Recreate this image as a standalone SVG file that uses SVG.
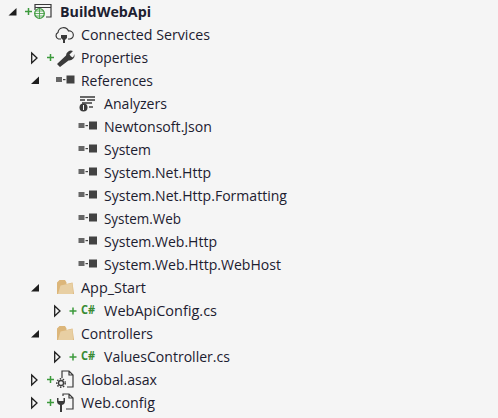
<svg xmlns="http://www.w3.org/2000/svg" width="498" height="418" viewBox="0 0 498 418">
<style>
text{font-family:"Open Sans","Noto Sans","Liberation Sans",sans-serif;font-size:15px;fill:#1c2030}
.b{font-weight:700}
.open{fill:#1e1e1e}
.closed{fill:#f5f5f5;stroke:#1e1e1e;stroke-width:1.3}
.plus{stroke:#3c9a3c;stroke-width:1.5;fill:none}
.sq{fill:#424242}
.line{fill:none;stroke:#3a3a3a;stroke-width:1.2}
.folder{fill:#dcb67a}
.cs{font-size:12px;font-weight:700;fill:#388a34}
</style>
<defs>
<g id="ref"><rect x="0" y="-2.500" width="6" height="5" class="sq" opacity=".8"/><rect x="7" y="-0.500" width="2.500" height="1.200" class="sq"/><rect x="10.500" y="-4" width="8" height="8" class="sq"/></g>
<path id="tri-open" class="open" d="M0 7.500L8 7.500L8 0Z"/>
<path id="tri-closed" class="closed" d="M0.700 0L6 5L0.700 10Z"/>
<path id="plus" class="plus" d="M0 3.500H7M3.500 0V7"/>
<g id="fold"><path class="folder" d="M0.500 14.500V3L3 0.500H8.500L10 3V4.500L16 3L17.500 14.500Z"/><path d="M1.500 14.500L4 6L16 3.500L16.500 14.500Z" fill="#e8cfa3"/></g>
</defs>
<rect width="498" height="418" fill="#f5f5f5"/>
<g id="connectors"></g>
<g id="node-buildwebapi"><use href="#tri-open" x="8.500" y="8"/><use href="#plus" x="25" y="8"/><path class="line" d="M35 10V4.500H51V17H46M35 7.500H51"/><circle cx="39.500" cy="13.500" r="4.800" fill="#f5f5f5" stroke="#3c9a3c" stroke-width="1.300"/><path d="M34.700 13.500H44.300M39.500 8.700V18.300M35.500 11H43.500M35.500 16H43.500" stroke="#3c9a3c" stroke-width=".8" fill="none"/><text class="b" x="60" y="17" textLength="91" lengthAdjust="spacingAndGlyphs">BuildWebApi</text></g>
<g id="node-connected"><path class="line" d="M61 39H58.500A3.500 3.500 0 0 1 58 32.500A5.500 5.500 0 0 1 68.500 31A4 4 0 0 1 70 39H68"/><path d="M62 33V35M66 33V35M61 35H67V38L65 40V43H63V40L61 38Z" fill="#3a3a3a"/><text x="81" y="40" textLength="129" lengthAdjust="spacingAndGlyphs">Connected Services</text></g>
<g id="node-properties"><use href="#tri-closed" x="31" y="53"/><use href="#plus" x="47" y="54"/><path d="M57 64L66 55.500A5 5 0 0 1 73 51L69.500 54.500L71 56.500L73 57.500L74.500 54A5.500 5.500 0 0 1 68.500 60.500L60 67Z" fill="#3a3a3a"/><text x="81" y="63" textLength="67" lengthAdjust="spacingAndGlyphs">Properties</text></g>
<g id="node-references"><use href="#tri-open" x="31" y="76.500"/><use href="#ref" x="56" y="79.500"/><text x="81" y="86" textLength="72" lengthAdjust="spacingAndGlyphs">References</text></g>
<g id="node-analyzers"><path d="M80 97H95M80 100H85M87 100H95M82 103H92" stroke="#3a3a3a" stroke-width="1.600" fill="none"/><circle cx="83.500" cy="107.500" r="4" fill="#3a3a3a"/><rect x="83" y="105" width="1" height="5" fill="#f5f5f5"/><path d="M89 107H93" stroke="#3a3a3a" stroke-width="1.400"/><text x="104" y="109" textLength="63" lengthAdjust="spacingAndGlyphs">Analyzers</text></g>
<g id="node-newtonsoft"><use href="#ref" x="78.500" y="125.500"/><text x="104" y="132" textLength="108" lengthAdjust="spacingAndGlyphs">Newtonsoft.Json</text></g>
<g id="node-system"><use href="#ref" x="78.500" y="148.500"/><text x="104" y="155" textLength="47" lengthAdjust="spacingAndGlyphs">System</text></g>
<g id="node-net-http"><use href="#ref" x="78.500" y="171.500"/><text x="104" y="178" textLength="107" lengthAdjust="spacingAndGlyphs">System.Net.Http</text></g>
<g id="node-formatting"><use href="#ref" x="78.500" y="194.500"/><text x="104" y="201" textLength="183" lengthAdjust="spacingAndGlyphs">System.Net.Http.Formatting</text></g>
<g id="node-web"><use href="#ref" x="78.500" y="217.500"/><text x="104" y="224" textLength="77" lengthAdjust="spacingAndGlyphs">System.Web</text></g>
<g id="node-web-http"><use href="#ref" x="78.500" y="240.500"/><text x="104" y="247" textLength="113" lengthAdjust="spacingAndGlyphs">System.Web.Http</text></g>
<g id="node-webhost"><use href="#ref" x="78.500" y="263.500"/><text x="104" y="270" textLength="177" lengthAdjust="spacingAndGlyphs">System.Web.Http.WebHost</text></g>
<g id="node-app-start"><use href="#tri-open" x="31" y="284"/><use href="#fold" x="56.500" y="279.500"/><text x="81" y="293" textLength="65" lengthAdjust="spacingAndGlyphs">App_Start</text></g>
<g id="node-webapiconfig"><use href="#tri-closed" x="54" y="306"/><use href="#plus" x="69.500" y="307.500"/><text class="cs" x="81" y="314" textLength="14" lengthAdjust="spacingAndGlyphs">C#</text><text x="104" y="316" textLength="113" lengthAdjust="spacingAndGlyphs">WebApiConfig.cs</text></g>
<g id="node-controllers"><use href="#tri-open" x="31" y="330"/><use href="#fold" x="56.500" y="325.500"/><text x="81" y="339" textLength="72" lengthAdjust="spacingAndGlyphs">Controllers</text></g>
<g id="node-valuescontroller"><use href="#tri-closed" x="54" y="352"/><use href="#plus" x="69.500" y="353.500"/><text class="cs" x="81" y="360" textLength="14" lengthAdjust="spacingAndGlyphs">C#</text><text x="104" y="362" textLength="126" lengthAdjust="spacingAndGlyphs">ValuesController.cs</text></g>
<g id="node-global"><use href="#tri-closed" x="31" y="375"/><use href="#plus" x="47" y="376"/><path class="line" d="M62 378V371H69L73 375V387H67M69 371V375H73"/><circle cx="61" cy="383" r="2.500" fill="none" stroke="#3a3a3a" stroke-width="1.300"/><circle cx="61" cy="383" r="4.200" fill="none" stroke="#3a3a3a" stroke-width="1.500" stroke-dasharray="1.500 1.500"/><text x="81" y="385" textLength="76" lengthAdjust="spacingAndGlyphs">Global.asax</text></g>
<g id="node-webconfig"><use href="#tri-closed" x="31" y="398"/><use href="#plus" x="47" y="399"/><path class="line" d="M63 396V394H69L73 398V409H66M69 394V398H73"/><path d="M57 398V402A3.500 3.500 0 0 0 60 405V412H62V405A3.500 3.500 0 0 0 65 402V398H63.500V401H58.500V398Z" fill="#3a3a3a"/><text x="81" y="408" textLength="74" lengthAdjust="spacingAndGlyphs">Web.config</text></g>
</svg>
